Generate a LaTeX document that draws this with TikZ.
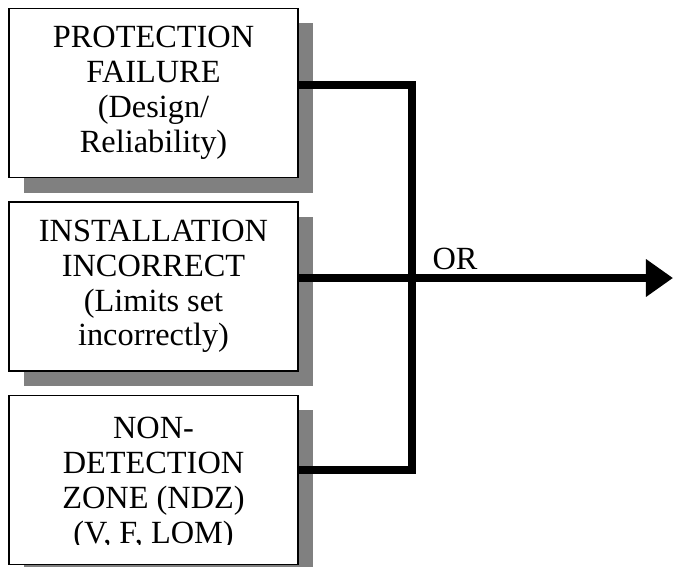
\documentclass[tikz,border=0pt]{standalone}
\usepackage{fontspec}
\setmainfont{Liberation Serif}
\usetikzlibrary{positioning,shadows,arrows.meta}

\begin{document}
\begin{tikzpicture}[x=0.025cm,y=-0.025cm,
	label text/.style={align=center,font=\fontsize{23}{24.8}\selectfont},
	cause/.style={label text,draw,line width=1pt,fill=white,minimum width=7.225cm,minimum height=4.225cm,
		drop shadow={shadow xshift=0.375cm,shadow yshift=-0.375cm,fill=gray,opacity=1}},
	wire/.style={line width=5pt}]
				\useasboundingbox (0,0) rectangle (673,567);
				\node (prot) [cause] at (153.5,93) {PROTECTION\\FAILURE\\(Design/\\Reliability)};
				\node (inst) [cause,below=0.575cm of prot] {INSTALLATION\\INCORRECT\\(Limits set\\incorrectly)};
				\node (ndz) [cause,below=0.575cm of inst] {};
				\coordinate (cut) at (298,544);
				\begin{scope} \clip (ndz.north west) rectangle (cut); \node [label text,yshift=-0.1cm] at (ndz) {NON-\\DETECTION\\ZONE (NDZ)\\(V, F, LOM)}; \end{scope}
				\coordinate (top) at (412,85); \coordinate (bot) at (412,470); \coordinate (out) at (673,278);
				\draw [wire] (prot.east |- top) -- (top) -- (bot) -- (ndz.east |- bot);
				\draw [wire,-{Triangle[length=0.675cm,width=0.9cm]}] (inst.east |- out) -- (out);
				\node (or) [label text,anchor=base] at (455,269) {OR};
			\end{tikzpicture}
\end{document}
